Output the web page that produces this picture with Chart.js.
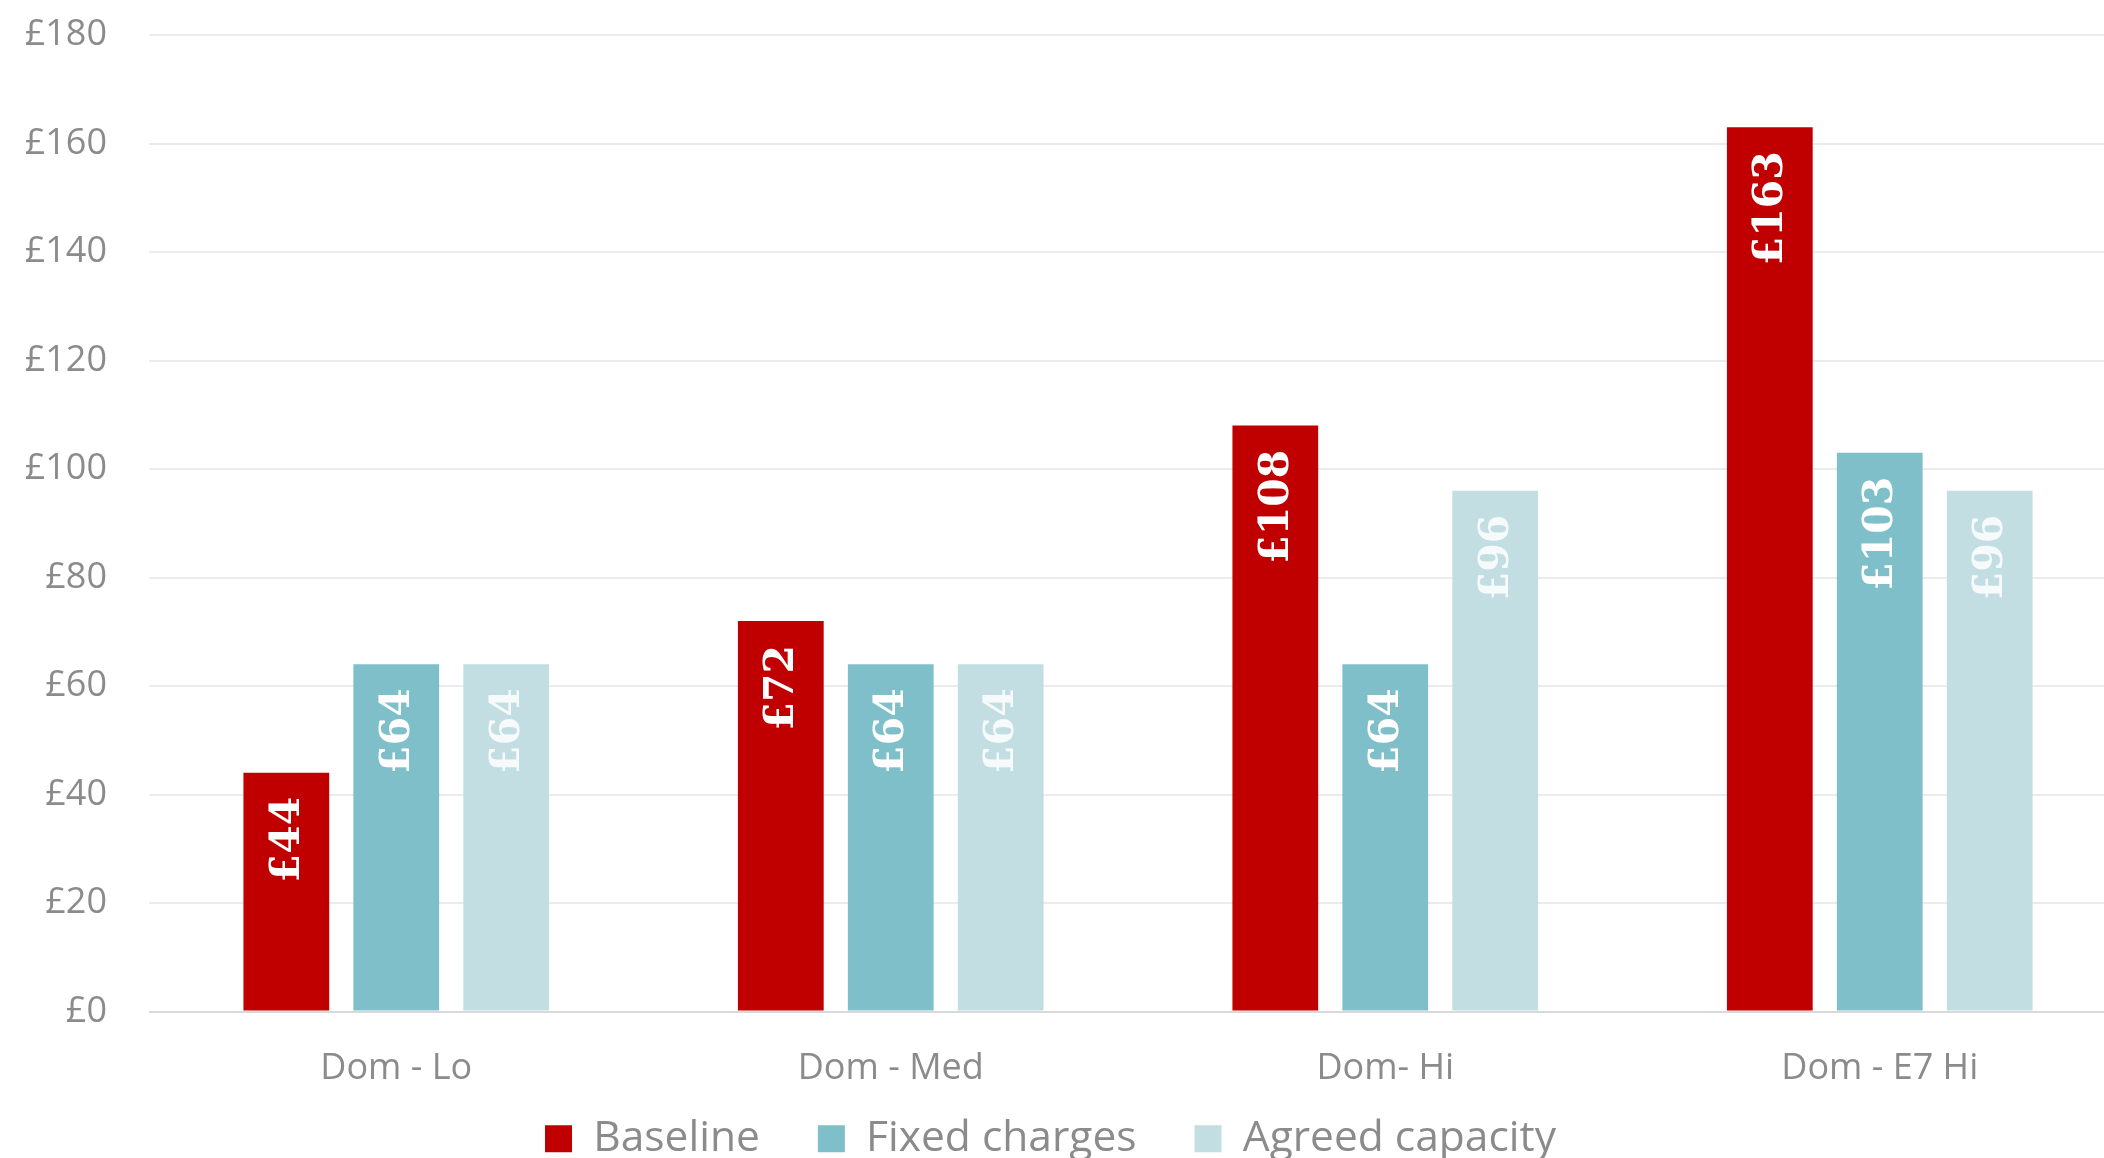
<!DOCTYPE html>
<html>
<head>
<meta charset="utf-8">
<title>Annual charges by customer type</title>
<script src="https://cdn.jsdelivr.net/npm/chart.js@4/dist/chart.umd.min.js"></script>
<style>
  html, body { margin: 0; padding: 0; background: #ffffff; overflow: hidden; }
  #wrap { position: relative; width: 2140px; height: 1212px; }
</style>
</head>
<body>
<div id="wrap"><canvas id="chart"></canvas></div>
<script>
// Customer categories along the x axis
const categories = ['Dom - Lo', 'Dom - Med', 'Dom- Hi', 'Dom - E7 Hi'];

// Annual charge (£) per category for each charging approach
const baseline = [44, 72, 108, 163];
const fixedCharges = [64, 64, 64, 103];
const agreedCapacity = [64, 64, 96, 96];

// Value axis tick labels, £0 to £180 in steps of 20
const yTickValues = [0, 20, 40, 60, 80, 100, 120, 140, 160, 180];
const yTickLabels = ['£0', '£20', '£40', '£60', '£80', '£100', '£120', '£140', '£160', '£180'];

const GREY = '#8b8b8b';
const SANS = '"Open Sans", "Noto Sans", sans-serif';

// Writes each bar's value vertically, just inside the top of the bar
const barValueLabels = {
  id: 'barValueLabels',
  afterDatasetsDraw(chart) {
    const ctx = chart.ctx;
    chart.data.datasets.forEach((ds, di) => {
      const meta = chart.getDatasetMeta(di);
      if (meta.hidden) return;
      meta.data.forEach((bar, i) => {
        const v = ds.data[i];
        ctx.save();
        ctx.translate(bar.x, bar.y + 24);
        ctx.rotate(-Math.PI / 2);
        ctx.font = 'bold 41px "DejaVu Serif", serif';
        ctx.fillStyle = ds.labelColor;
        ctx.textAlign = 'right';
        ctx.textBaseline = 'middle';
        ctx.fillText('£' + v, 0, 2);
        ctx.restore();
      });
    });
  }
};

// Places the legend row just under the category labels, centred on the plot
const legendPlacement = {
  id: 'legendPlacement',
  afterLayout(chart) {
    const lg = chart.legend;
    if (!lg) return;
    const h = lg.bottom - lg.top;
    lg.top = chart.chartArea.bottom + 48;
    lg.bottom = lg.top + h;
    lg.left -= 13;
    lg.right -= 13;
  }
};

new Chart(document.getElementById('chart'), {
  type: 'bar',
  data: {
    labels: categories,
    datasets: [
      { label: 'Baseline', data: baseline, backgroundColor: '#C00000', labelColor: '#ffffff' },
      { label: 'Fixed charges', data: fixedCharges, backgroundColor: '#7FBFCA', labelColor: '#ffffff' },
      { label: 'Agreed capacity', data: agreedCapacity, backgroundColor: '#C2DEE3', labelColor: 'rgba(255,255,255,0.85)' }
    ]
  },
  options: {
    responsive: true,
    maintainAspectRatio: false,
    animation: false,
    devicePixelRatio: 1,
    layout: { padding: { top: 35, left: 0, right: 13, bottom: 0 } },
    datasets: {
      bar: { categoryPercentage: 0.667, barPercentage: 0.78, borderWidth: 0 }
    },
    scales: {
      x: {
        grid: { display: false, drawTicks: false },
        border: { display: false },
        ticks: {
          color: GREY,
          padding: 36,
          font: { family: SANS, size: 36 }
        },
        afterFit(scale) { scale.height = 90; }
      },
      y: {
        min: 0,
        max: 180,
        afterBuildTicks(scale) {
          scale.ticks = yTickValues.map(v => ({ value: v }));
        },
        grid: {
          drawTicks: false,
          lineWidth: 2,
          color: ctx => (ctx.tick && ctx.tick.value === 0) ? '#d9d9d9' : '#ebebeb'
        },
        border: { display: false },
        ticks: {
          color: GREY,
          padding: 42,
          font: { family: SANS, size: 36 },
          callback: (value, index) => yTickLabels[yTickValues.indexOf(value)]
        },
        afterFit(scale) {
          scale.width = 149;
          scale.paddingTop = 0;
          scale.paddingBottom = 0;
        }
      }
    },
    plugins: {
      legend: {
        position: 'bottom',
        labels: {
          color: GREY,
          boxWidth: 27,
          boxHeight: 27,
          padding: 58,
          font: { family: SANS, size: 42.5 }
        }
      },
      tooltip: { enabled: false }
    }
  },
  plugins: [barValueLabels, legendPlacement]
});
</script>
</body>
</html>
